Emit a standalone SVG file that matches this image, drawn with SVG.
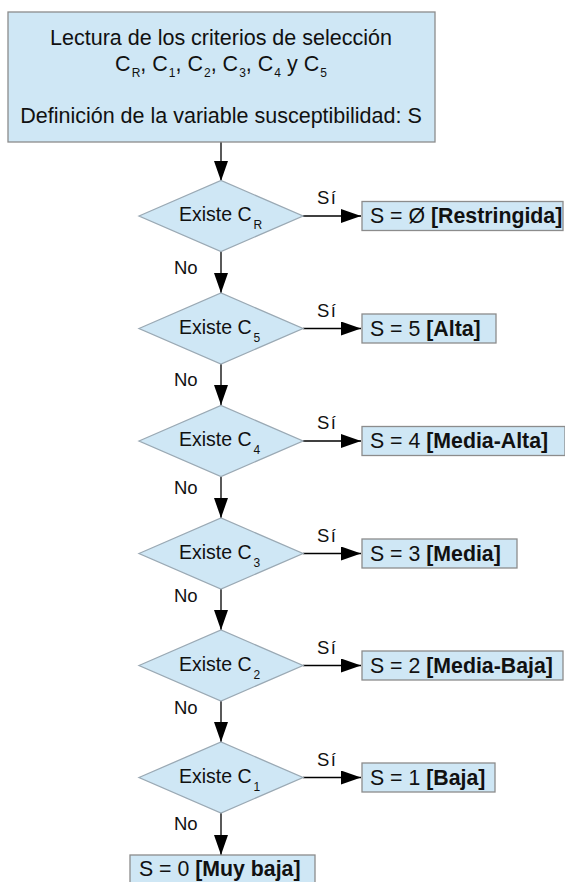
<svg xmlns="http://www.w3.org/2000/svg" width="565" height="882" viewBox="0 0 565 882">
<defs>
<style>
.box{fill:#cfe7f5;stroke:#8c8c8c;stroke-width:1.3}
.dia{fill:#cfe7f5;stroke:#9aa9b4;stroke-width:1.3}
.t{font-family:"Liberation Sans",Arial,sans-serif;fill:#111}
.top{font-size:21.5px}
.d{font-size:19.5px}
.r{font-size:21.3px}
.b{font-weight:bold}
.lbl{font-family:"Liberation Sans",Arial,sans-serif;font-size:18.5px;fill:#111}
.si{letter-spacing:1.5px}
.sub{font-size:12px}
.c{stroke:#000;stroke-width:1.3;fill:none}
</style>
<marker id="ah" viewBox="0 0 20 14" refX="20" refY="7" markerWidth="20" markerHeight="14" markerUnits="userSpaceOnUse" orient="auto">
<path d="M0,0 L20,7 L0,14 Z" fill="#000"/>
</marker>
</defs>
<rect width="565" height="882" fill="#fff"/>

<g id="connectors">
<line class="c" x1="221" y1="142" x2="221" y2="181" marker-end="url(#ah)"/>
<line class="c" x1="221" y1="252" x2="221" y2="293" marker-end="url(#ah)"/>
<line class="c" x1="221" y1="364" x2="221" y2="405" marker-end="url(#ah)"/>
<line class="c" x1="221" y1="477" x2="221" y2="518" marker-end="url(#ah)"/>
<line class="c" x1="221" y1="589" x2="221" y2="630" marker-end="url(#ah)"/>
<line class="c" x1="221" y1="701" x2="221" y2="742" marker-end="url(#ah)"/>
<line class="c" x1="221" y1="813" x2="221" y2="855" marker-end="url(#ah)"/>
<line class="c" x1="303" y1="216" x2="361" y2="216" marker-end="url(#ah)"/>
<line class="c" x1="303" y1="328.5" x2="361" y2="328.5" marker-end="url(#ah)"/>
<line class="c" x1="303" y1="441" x2="361" y2="441" marker-end="url(#ah)"/>
<line class="c" x1="303" y1="553.5" x2="361" y2="553.5" marker-end="url(#ah)"/>
<line class="c" x1="303" y1="665.5" x2="361" y2="665.5" marker-end="url(#ah)"/>
<line class="c" x1="303" y1="777.5" x2="361" y2="777.5" marker-end="url(#ah)"/>
<text class="lbl si" x="317" y="204">Sí</text>
<text class="lbl si" x="317" y="316.5">Sí</text>
<text class="lbl si" x="317" y="429">Sí</text>
<text class="lbl si" x="317" y="541.5">Sí</text>
<text class="lbl si" x="317" y="653.5">Sí</text>
<text class="lbl si" x="317" y="765.5">Sí</text>
<text class="lbl" x="174" y="274">No</text>
<text class="lbl" x="174" y="386">No</text>
<text class="lbl" x="174" y="494">No</text>
<text class="lbl" x="174" y="602">No</text>
<text class="lbl" x="174" y="714">No</text>
<text class="lbl" x="174" y="830">No</text>
</g>

<g id="start">
<rect class="box" x="8" y="12" width="427" height="130"/>
<text class="t top" x="221" y="45" text-anchor="middle">Lectura de los criterios de selección</text>
<text class="t top" x="221" y="71" text-anchor="middle">C<tspan class="sub" dy="6" dx="1">R</tspan><tspan dy="-6">, C</tspan><tspan class="sub" dy="6" dx="1">1</tspan><tspan dy="-6">, C</tspan><tspan class="sub" dy="6" dx="1">2</tspan><tspan dy="-6">, C</tspan><tspan class="sub" dy="6" dx="1">3</tspan><tspan dy="-6">, C</tspan><tspan class="sub" dy="6" dx="1">4</tspan><tspan dy="-6"> y C</tspan><tspan class="sub" dy="6" dx="1">5</tspan></text>
<text class="t top" x="221" y="123" text-anchor="middle">Definición de la variable susceptibilidad: S</text>
</g>

<g id="dR">
<polygon class="dia" points="139,216 221,180.5 303,216 221,251.5"/>
<text class="t d" x="179" y="221">Existe C<tspan class="sub" dy="8" dx="2">R</tspan></text>
</g>
<g id="rR">
<rect class="box" x="362" y="201.5" width="201" height="29"/>
<text class="t r" x="370" y="223">S = Ø <tspan class="b">[Restringida]</tspan></text>
</g>

<g id="d5">
<polygon class="dia" points="139,328.5 221,293 303,328.5 221,364"/>
<text class="t d" x="179" y="333.5">Existe C<tspan class="sub" dy="8" dx="2">5</tspan></text>
</g>
<g id="r5">
<rect class="box" x="362" y="314" width="134" height="29"/>
<text class="t r" x="370" y="335.5">S = 5 <tspan class="b">[Alta]</tspan></text>
</g>

<g id="d4">
<polygon class="dia" points="139,441 221,405.5 303,441 221,476.5"/>
<text class="t d" x="179" y="446">Existe C<tspan class="sub" dy="8" dx="2">4</tspan></text>
</g>
<g id="r4">
<rect class="box" x="362" y="426.5" width="203" height="29"/>
<text class="t r" x="370" y="448">S = 4 <tspan class="b">[Media-Alta]</tspan></text>
</g>

<g id="d3">
<polygon class="dia" points="139,553.5 221,518 303,553.5 221,589"/>
<text class="t d" x="179" y="558.5">Existe C<tspan class="sub" dy="8" dx="2">3</tspan></text>
</g>
<g id="r3">
<rect class="box" x="362" y="539" width="155" height="29"/>
<text class="t r" x="370" y="560.5">S = 3 <tspan class="b">[Media]</tspan></text>
</g>

<g id="d2">
<polygon class="dia" points="139,665.5 221,630 303,665.5 221,701"/>
<text class="t d" x="179" y="670.5">Existe C<tspan class="sub" dy="8" dx="2">2</tspan></text>
</g>
<g id="r2">
<rect class="box" x="362" y="651" width="201" height="29"/>
<text class="t r" x="370" y="672.5">S = 2 <tspan class="b">[Media-Baja]</tspan></text>
</g>

<g id="d1">
<polygon class="dia" points="139,777.5 221,742 303,777.5 221,813"/>
<text class="t d" x="179" y="782.5">Existe C<tspan class="sub" dy="8" dx="2">1</tspan></text>
</g>
<g id="r1">
<rect class="box" x="362" y="763" width="133" height="29"/>
<text class="t r" x="370" y="784.5">S = 1 <tspan class="b">[Baja]</tspan></text>
</g>

<g id="r0">
<rect class="box" x="130" y="855" width="185" height="35"/>
<text class="t r" x="139" y="876">S = 0 <tspan class="b">[Muy baja]</tspan></text>
</g>
</svg>
